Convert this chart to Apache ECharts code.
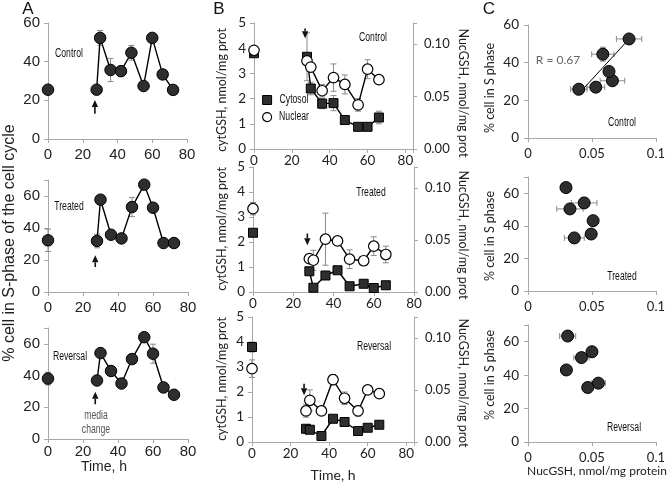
<!DOCTYPE html>
<html><head><meta charset="utf-8">
<script src="https://cdn.jsdelivr.net/npm/echarts@6/dist/echarts.min.js"></script>
<style>html,body{margin:0;padding:0;background:#fff}#c{width:668px;height:483px}</style>
</head><body><div id="c"></div>
<script>
// ================= DATA =================
// Panel A: % cells in S phase vs time (h)
const timesA = [0, 28, 30, 36, 42, 48, 55, 60, 66, 72];
const sControl = [25.5, 25.5, 52.3, 35.7, 35.1, 44.6, 27.4, 52.3, 33.4, 25.4];
const sControlErr = [0, 0, 3.8, 6, 2.6, 3.8, 0, 0, 0, 0];
const sTreated = [32.3, 31.9, 57.7, 35.8, 33.5, 53.1, 67.1, 52.7, 30.6, 30.6];
const sTreatedErr = [7, 4.3, 0, 0, 0, 6, 0, 0, 0, 0];
const sReversal = [38.1, 36.9, 54.2, 42.9, 35.0, 50.4, 64.2, 53.8, 32.5, 27.9];
const sReversalErr = [4, 2, 0, 0, 0, 0, 0, 6, 0, 2];
const arrowX = 27;
const arrowATail = [13, 15.6, 21.9];
const arrowAHead = [20.2, 22.9, 29.8];

// Panel B: cytosolic GSH (left axis) and nuclear GSH (right axis) vs time
const timesB = [0, 28, 30, 36, 42, 48, 55, 60, 66];
const cytControl = [3.8, 3.66, 2.4, 1.8, 1.82, 1.15, 0.88, 0.88, 1.25];
const cytControlErr = [0, 0.95, 0.25, 0.2, 0.3, 0.1, 0, 0, 0.25];
const nucControl = [0.094, 0.084, 0.078, 0.0555, 0.068, 0.0615, 0.042, 0.076, 0.066];
const nucControlErr = [0, 0, 0, 0.006, 0.013, 0.009, 0.006, 0.009, 0];
const cytTreated = [2.37, 0.83, 0.17, 0.66, 0.87, 0.23, 0.33, 0.16, 0.27];
const cytTreatedErr = [0, 0, 0, 0, 0, 0, 0, 0, 0];
const nucTreated = [0.080, 0.032, 0.0305, 0.0507, 0.049, 0.0315, 0.030, 0.044, 0.036];
const nucTreatedErr = [0.006, 0, 0.0096, 0.025, 0, 0.009, 0, 0.009, 0.008];
const cytReversal = [3.8, 0.53, 0.49, 0.24, 0.93, 0.8, 0.44, 0.57, 0.69];
const cytReversalErr = [0.2, 0, 0, 0, 0, 0, 0, 0, 0];
const nucReversal = [0.0704, 0.0298, 0.040, 0.0298, 0.0598, 0.042, 0.0298, 0.050, 0.0464];
const nucReversalErr = [0.0084, 0.006, 0.01, 0, 0.005, 0.006, 0.005, 0, 0];
const arrowBTail = [4.78, 2.34, 2.33];
const arrowBHead = [4.39, 1.87, 1.87];

// Panel C: % cells in S phase vs NucGSH
const cNucControl = [0.0397, 0.053, 0.066, 0.0633, 0.0585, 0.079];
const cSControl = [25.9, 27, 30.4, 35.3, 44.5, 52.6];
const cNucErrControl = [0.0064, 0.007, 0.0096, 0, 0.0087, 0.0099];
const cSErrControl = [0, 0, 0, 0, 3.7, 0];
const trendX = [0.0385, 0.080];
const trendY = [22.6, 53.3];
const cNucTreated = [0.0297, 0.0439, 0.0328, 0.0509, 0.0494, 0.0362];
const cSTreated = [63.5, 54.1, 50.4, 43.2, 35.0, 32.6];
const cNucErrTreated = [0, 0.01, 0.0103, 0, 0.0035, 0.0078];
const cSErrTreated = [0, 3, 0, 0, 0, 0];
const cNucReversal = [0.031, 0.050, 0.0418, 0.030, 0.055, 0.0467];
const cSReversal = [63.4, 54.0, 50.5, 43.1, 35.2, 32.6];
const cNucErrReversal = [0.0063, 0, 0.006, 0.004, 0.0055, 0];
const cSErrReversal = [0, 2, 0, 0, 0, 0];

const panelNames = ['Control', 'Treated', 'Reversal'];

// ================= HELPERS =================
const fA = 'Liberation Sans, Arial, sans-serif';
const fB = 'Lato, "Open Sans", sans-serif';
const fN = '"Liberation Sans", Arial, sans-serif';
const axisGray = '#a8a8a8';
const errGray = '#8a8a8a';

const zip = (xs, ys) => xs.map((x, i) => [x, ys[i]]);
const zipErr = (xs, ys, es) => xs.map((x, i) => [x, ys[i], es[i]]).filter(d => d[2] > 0);

function errV(params, api) {
  const x = api.value(0), y = api.value(1), e = api.value(2);
  const a = api.coord([x, y + e]), b = api.coord([x, y - e]);
  const c = 3, st = { stroke: errGray, lineWidth: 1 };
  return { type: 'group', children: [
    { type: 'line', shape: { x1: a[0], y1: a[1], x2: b[0], y2: b[1] }, style: st },
    { type: 'line', shape: { x1: a[0] - c, y1: a[1], x2: a[0] + c, y2: a[1] }, style: st },
    { type: 'line', shape: { x1: b[0] - c, y1: b[1], x2: b[0] + c, y2: b[1] }, style: st }
  ] };
}
function errH(params, api) {
  const x = api.value(0), y = api.value(1), e = api.value(2);
  const a = api.coord([x - e, y]), b = api.coord([x + e, y]);
  const c = 3, st = { stroke: errGray, lineWidth: 1 };
  return { type: 'group', children: [
    { type: 'line', shape: { x1: a[0], y1: a[1], x2: b[0], y2: b[1] }, style: st },
    { type: 'line', shape: { x1: a[0], y1: a[1] - c, x2: a[0], y2: a[1] + c }, style: st },
    { type: 'line', shape: { x1: b[0], y1: b[1] - c, x2: b[0], y2: b[1] + c }, style: st }
  ] };
}
function arrow(params, api) {
  const x = api.value(0);
  const t = api.coord([x, api.value(1)]), h = api.coord([x, api.value(2)]);
  const dir = h[1] < t[1] ? -1 : 1;
  const L = 7, W = 3.2, base = h[1] - dir * L;
  return { type: 'group', children: [
    { type: 'line', shape: { x1: t[0], y1: t[1], x2: t[0], y2: base }, style: { stroke: '#111', lineWidth: 1.6 } },
    { type: 'polygon', shape: { points: [[h[0], h[1]], [h[0] - W, base], [h[0] + W, base]] }, style: { fill: '#111' } }
  ] };
}
function txt(x, y, text, font, size, color, rot, sx) {
  return { type: 'text', x: x, y: y, rotation: rot || 0, scaleX: sx || 1, z: 100,
    style: { text: text, fontFamily: font, fontSize: size, fill: color || '#111',
      align: 'center', verticalAlign: 'middle' } };
}
const NARROW = 0.72;

// ================= LAYOUT =================
const gridsA = [{ left: 48, top: 23, width: 139, height: 116 }, { left: 48, top: 180, width: 140, height: 112 }, { left: 48, top: 328, width: 140, height: 111 }];
const gridsB = [{ left: 254, top: 23, width: 159, height: 126 }, { left: 253, top: 167, width: 161, height: 125 }, { left: 252, top: 317, width: 162, height: 125 }];
const gridsC = [{ left: 528, top: 25, width: 130, height: 113 }, { left: 528, top: 177, width: 130, height: 114 }, { left: 528, top: 325, width: 130, height: 117 }];
const grids = gridsA.concat(gridsB, gridsC);

const line = { show: true, onZero: false, lineStyle: { color: axisGray, width: 1 } };
const tick = { show: true, length: 4, lineStyle: { color: axisGray } };
const mult = (step) => (v) => (Math.abs(v / step - Math.round(v / step)) < 1e-6 ? v : '');
const mult2 = (step) => (v) => (Math.abs(v / step - Math.round(v / step)) < 1e-6 ? v.toFixed(2) : '');

const xAxes = [], yAxes = [];
// A: xAxis 0-2, yAxis 0-2
const aMargin = [8, 8, 5];
[0, 1, 2].forEach(i => {
  xAxes.push({ gridIndex: i, type: 'value', min: 0, max: 80, interval: 20, axisLine: line, axisTick: tick, splitLine: { show: false },
    axisLabel: { fontFamily: fA, fontSize: 15, color: '#222', margin: aMargin[i], formatter: mult(20) } });
  yAxes.push({ gridIndex: i, type: 'value', min: 0, max: i === 0 ? 60 : 70, interval: 20, axisLine: line, axisTick: tick, splitLine: { show: false },
    axisLabel: { fontFamily: fA, fontSize: 15, color: '#222', margin: 8, formatter: mult(20) } });
});
// B: xAxis 3-5, left yAxis 3-5, right yAxis 6-8
const bXMax = [84, 80, 84];
[0, 1, 2].forEach(i => {
  xAxes.push({ gridIndex: 3 + i, type: 'value', min: 0, max: bXMax[i], interval: 20, axisLine: line, axisTick: tick, splitLine: { show: false },
    axisLabel: { fontFamily: fB, fontSize: 13.5, color: '#222', margin: 5, formatter: mult(20) } });
});
[0, 1, 2].forEach(i => {
  yAxes.push({ gridIndex: 3 + i, type: 'value', min: 0, max: 5, interval: 1, axisLine: line, axisTick: tick, splitLine: { show: false },
    axisLabel: { fontFamily: fB, fontSize: 13.5, color: '#222', margin: 8 } });
});
[0, 1, 2].forEach(i => {
  yAxes.push({ gridIndex: 3 + i, type: 'value', position: 'right', min: 0, max: 0.12, interval: 0.05, axisLine: line, axisTick: tick, splitLine: { show: false },
    axisLabel: { fontFamily: fB, fontSize: 13, color: '#222', margin: 11, formatter: mult2(0.05) } });
});
// C: xAxis 6-8, yAxis 9-11
[0, 1, 2].forEach(i => {
  xAxes.push({ gridIndex: 6 + i, type: 'value', min: 0, max: 0.1, interval: 0.05, axisLine: line, axisTick: tick, splitLine: { show: false },
    axisLabel: { fontFamily: fB, fontSize: 13, color: '#222', margin: 9 } });
  yAxes.push({ gridIndex: 6 + i, type: 'value', min: 0, max: i === 0 ? 60 : 70, interval: 20, axisLine: line, axisTick: tick, splitLine: { show: false },
    axisLabel: { fontFamily: fB, fontSize: 13.5, color: '#222', margin: 9, formatter: mult(20) } });
});

// ================= SERIES =================
const series = [];
const dot = { color: '#2e2e2e', borderColor: '#000', borderWidth: 1, opacity: 1 };
const blackLine = { color: '#000', width: 1.4 };

// A
const aVals = [sControl, sTreated, sReversal], aErrs = [sControlErr, sTreatedErr, sReversalErr];
[0, 1, 2].forEach(i => {
  const ax = { xAxisIndex: i, yAxisIndex: i };
  series.push(Object.assign({ type: 'custom', renderItem: errV, data: zipErr(timesA, aVals[i], aErrs[i]), z: 1, silent: true, encode: { x: 0, y: 1 } }, ax));
  series.push(Object.assign({ type: 'line', data: zip(timesA.slice(1), aVals[i].slice(1)), symbol: 'circle', symbolSize: 11.5, itemStyle: dot, lineStyle: blackLine, z: 3 }, ax));
  series.push(Object.assign({ type: 'scatter', data: zip(timesA.slice(0, 1), aVals[i].slice(0, 1)), symbol: 'circle', symbolSize: 11.5, itemStyle: dot, z: 3 }, ax));
  series.push(Object.assign({ type: 'custom', renderItem: arrow, data: [[arrowX, arrowATail[i], arrowAHead[i]]], z: 4, silent: true, encode: { x: 0, y: 1 } }, ax));
});

// B
const cyt = [cytControl, cytTreated, cytReversal], cytE = [cytControlErr, cytTreatedErr, cytReversalErr];
const nuc = [nucControl, nucTreated, nucReversal], nucE = [nucControlErr, nucTreatedErr, nucReversalErr];
const sq = { color: '#2e2e2e', borderColor: '#000', borderWidth: 1, opacity: 1 };
const oc = { color: '#fff', borderColor: '#000', borderWidth: 1.2, opacity: 1 };
[0, 1, 2].forEach(i => {
  const L = { xAxisIndex: 3 + i, yAxisIndex: 3 + i }, R = { xAxisIndex: 3 + i, yAxisIndex: 6 + i };
  const cn = i === 0 ? 'Cytosol' : 'Cytosol ' + panelNames[i];
  const nn = i === 0 ? 'Nuclear' : 'Nuclear ' + panelNames[i];
  series.push(Object.assign({ type: 'custom', renderItem: errV, data: zipErr(timesB, cyt[i], cytE[i]), z: 1, silent: true, encode: { x: 0, y: 1 } }, L));
  series.push(Object.assign({ type: 'custom', renderItem: errV, data: zipErr(timesB, nuc[i], nucE[i]), z: 1, silent: true, encode: { x: 0, y: 1 } }, R));
  series.push(Object.assign({ name: cn, type: 'line', data: zip(timesB.slice(1), cyt[i].slice(1)), symbol: 'rect', symbolSize: 9, itemStyle: sq, lineStyle: blackLine, z: 3 }, L));
  series.push(Object.assign({ name: cn, type: 'scatter', data: zip(timesB.slice(0, 1), cyt[i].slice(0, 1)), symbol: 'rect', symbolSize: 9, itemStyle: sq, z: 3 }, L));
  series.push(Object.assign({ name: nn, type: 'line', data: zip(timesB.slice(1), nuc[i].slice(1)), symbol: 'circle', symbolSize: 10.5, itemStyle: oc, lineStyle: blackLine, z: 4 }, R));
  series.push(Object.assign({ name: nn, type: 'scatter', data: zip(timesB.slice(0, 1), nuc[i].slice(0, 1)), symbol: 'circle', symbolSize: 10.5, itemStyle: oc, z: 4 }, R));
  series.push(Object.assign({ type: 'custom', renderItem: arrow, data: [[arrowX, arrowBTail[i], arrowBHead[i]]], z: 5, silent: true, encode: { x: 0, y: 1 } }, L));
});

// C
const cx = [cNucControl, cNucTreated, cNucReversal], cy = [cSControl, cSTreated, cSReversal];
const cxe = [cNucErrControl, cNucErrTreated, cNucErrReversal], cye = [cSErrControl, cSErrTreated, cSErrReversal];
[0, 1, 2].forEach(i => {
  const ax = { xAxisIndex: 6 + i, yAxisIndex: 9 + i };
  series.push(Object.assign({ type: 'custom', renderItem: errH, data: zipErr(cx[i], cy[i], cxe[i]), z: 1, silent: true, encode: { x: 0, y: 1 } }, ax));
  series.push(Object.assign({ type: 'custom', renderItem: errV, data: zipErr(cx[i], cy[i], cye[i]), z: 1, silent: true, encode: { x: 0, y: 1 } }, ax));
  if (i === 0) {
    series.push(Object.assign({ type: 'line', data: zip(trendX, trendY), symbol: 'none', lineStyle: { color: '#000', width: 1 }, z: 2 }, ax));
  }
  series.push(Object.assign({ type: 'scatter', data: zip(cx[i], cy[i]), symbol: 'circle', symbolSize: 12, itemStyle: dot, z: 3 }, ax));
});

// ================= TEXT =================
const graphic = [
  txt(28, 9, 'A', fA, 17, '#111'),
  txt(219, 9, 'B', fA, 17, '#111'),
  txt(489, 9, 'C', fA, 17, '#111'),
  // panel A
  txt(10, 243, '% cell in S-phase of the cell cycle', fA, 16, '#222', Math.PI / 2),
  txt(104, 467, 'Time, h', fA, 14, '#222'),
  txt(69, 54, 'Control', fN, 12, '#111', 0, NARROW),
  txt(69, 207, 'Treated', fN, 12, '#111', 0, NARROW),
  txt(70, 357, 'Reversal', fN, 12, '#111', 0, NARROW),
  txt(96, 416, 'media', fN, 12, '#555', 0, NARROW),
  txt(96, 430, 'change', fN, 12, '#555', 0, NARROW),
  // panel B
  txt(222, 90, 'cytGSH, nmol/mg prot', fB, 12.5, '#222', Math.PI / 2),
  txt(222, 229, 'cytGSH, nmol/mg prot', fB, 12.5, '#222', Math.PI / 2),
  txt(222, 379, 'cytGSH, nmol/mg prot', fB, 12.5, '#222', Math.PI / 2),
  txt(463, 93, 'NucGSH, nmol/mg prot', fB, 12.5, '#222', -Math.PI / 2),
  txt(463, 235, 'NucGSH, nmol/mg prot', fB, 12.5, '#222', -Math.PI / 2),
  txt(463, 383, 'NucGSH, nmol/mg prot', fB, 12.5, '#222', -Math.PI / 2),
  txt(333, 475, 'Time, h', fB, 14, '#222'),
  txt(373, 38, 'Control', fN, 12, '#111', 0, NARROW),
  txt(371, 193, 'Treated', fN, 12, '#111', 0, NARROW),
  txt(374, 347, 'Reversal', fN, 12, '#111', 0, NARROW),
  // legend text (narrow); markers drawn by legend component
  txt(294, 100, 'Cytosol', fN, 12, '#111', 0, NARROW),
  txt(294, 117, 'Nuclear', fN, 12, '#111', 0, NARROW),
  // panel C
  txt(490, 88, '% cell in S phase', fB, 12.5, '#222', Math.PI / 2),
  txt(490, 236, '% cell in S phase', fB, 12.5, '#222', Math.PI / 2),
  txt(490, 375, '% cell in S phase', fB, 12.5, '#222', Math.PI / 2),
  txt(597, 471, 'NucGSH, nmol/mg protein', fB, 12, '#222'),
  txt(558, 60, 'R = 0.67', fB, 12, '#666'),
  txt(622, 123, 'Control', fN, 12, '#111', 0, NARROW),
  txt(622, 277, 'Treated', fN, 12, '#111', 0, NARROW),
  txt(624, 428, 'Reversal', fN, 12, '#111', 0, NARROW)
];

const chart = echarts.init(document.getElementById('c'), null, { renderer: 'canvas' });
chart.setOption({
  backgroundColor: '#fff',
  animation: false,
  grid: grids,
  xAxis: xAxes,
  yAxis: yAxes,
  legend: {
    left: 257, top: 90, orient: 'vertical', itemGap: 7, itemWidth: 9, itemHeight: 9,
    formatter: () => '',
    textStyle: { fontSize: 1 },
    data: [
      { name: 'Cytosol', icon: 'rect', itemStyle: { color: '#2e2e2e', borderColor: '#000', borderWidth: 1 } },
      { name: 'Nuclear', icon: 'circle', itemStyle: { color: '#fff', borderColor: '#000', borderWidth: 1.2 } }
    ]
  },
  graphic: graphic,
  series: series
});
</script></body></html>
